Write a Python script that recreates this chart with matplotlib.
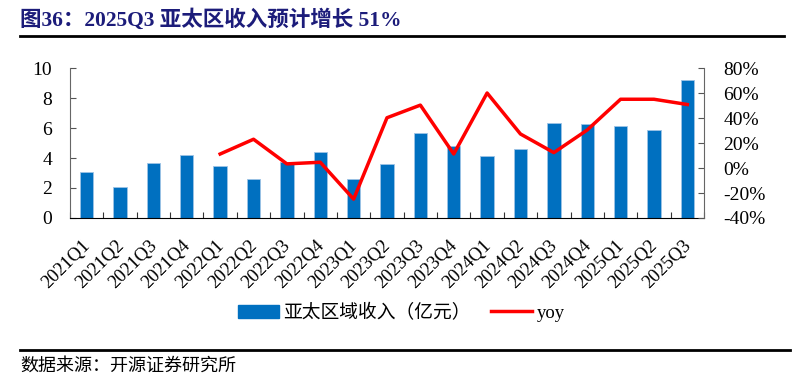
import matplotlib.pyplot as plt
from matplotlib.lines import Line2D
from matplotlib.transforms import offset_copy
import numpy as np

quarters = ['2021Q1', '2021Q2', '2021Q3', '2021Q4', '2022Q1', '2022Q2', '2022Q3', '2022Q4',
            '2023Q1', '2023Q2', '2023Q3', '2023Q4', '2024Q1', '2024Q2', '2024Q3', '2024Q4',
            '2025Q1', '2025Q2', '2025Q3']
revenue = [3.09, 2.09, 3.67, 4.2, 3.45, 2.58, 3.76, 4.38, 2.58, 3.62, 5.69, 4.82, 4.16, 4.58,
           6.33, 6.27, 6.13, 5.87, 9.2]
yoy = [None, None, None, None, 11.2, 23.0, 3.3, 4.6, -24.9, 40.2, 50.3, 11.2, 60.0, 27.2,
       12.3, 30.4, 55.0, 55.0, 50.8]
pct_ticks = [-40, -20, 0, 20, 40, 60, 80]

cjk = ['Noto Sans CJK SC', 'DejaVu Sans']
serif = ['Liberation Serif', 'Noto Sans CJK SC']

fig = plt.figure(figsize=(7.96, 3.78), dpi=100)
ax = fig.add_axes([70 / 796, 1 - 218 / 378, 634 / 796, 150 / 378])
x = np.arange(len(quarters))
ax.bar(x, revenue, width=0.4, color='#0070C0', edgecolor='#9DC3E6', linewidth=0.6, zorder=2)
ax.set_xlim(-0.5, len(quarters) - 0.5)
ax.set_ylim(0, 10)
ax.set_yticks([0, 2, 4, 6, 8, 10])
ax.set_xticks(np.arange(len(quarters) + 1) - 0.5)
ax.set_xticklabels([])
ax.tick_params(axis='x', direction='in', length=4, color='#333333')
# rotated category labels, anchored just below each bar
lbl_tr = offset_copy(ax.get_xaxis_transform(), fig=fig, x=-5, y=-19, units='dots')
for i, q in enumerate(quarters):
    ax.text(i, 0, q, transform=lbl_tr, rotation=45, ha='right', va='top',
            rotation_mode='anchor', fontsize=13.5, family=serif)
ax.tick_params(axis='y', direction='in', length=4, labelsize=14, color='#555555', pad=13)
for lbl in ax.get_yticklabels():
    lbl.set_family(serif)
for s in ['top', 'right']:
    ax.spines[s].set_visible(False)
ax.spines['left'].set_color('#666666')
ax.spines['bottom'].set_color('black')

ax2 = ax.twinx()
yx = [i for i, v in enumerate(yoy) if v is not None]
yv = [v for v in yoy if v is not None]
ax2.plot(yx, yv, color='#FF0000', linewidth=2.5, zorder=3)
ax2.set_ylim(-40, 80)
ax2.set_yticks(pct_ticks)
ax2.set_yticklabels([f'{t}%' for t in pct_ticks], family=serif)
ax2.tick_params(axis='y', direction='in', length=4, labelsize=14, color='#555555', pad=14)
for s in ['top', 'left', 'bottom']:
    ax2.spines[s].set_visible(False)
ax2.spines['right'].set_color('#666666')

handles = [plt.Rectangle((0, 0), 1, 1, color='#0070C0'),
           Line2D([0], [0], color='#FF0000', linewidth=2.5)]
fig.legend(handles, ['亚太区域收入（亿元）', 'yoy'], loc='center', bbox_to_anchor=(0.504, 1 - 313 / 378),
           ncol=2, frameon=False, prop={'family': serif, 'size': 13.5}, handlelength=2.2,
           columnspacing=1.05, handletextpad=0.25)

fig.text(20 / 796, 1 - 20 / 378, '图36：2025Q3 亚太区收入预计增长 51%', fontsize=15.5, fontweight='bold',
         color='#1C1C7A', family=['Liberation Serif', 'Noto Sans CJK SC'], va='center')
fig.add_artist(Line2D([20 / 796, 784 / 796], [1 - 36 / 378] * 2, color='black', linewidth=2))
fig.add_artist(Line2D([20 / 796, 790 / 796], [1 - 350 / 378] * 2, color='black', linewidth=2))
fig.text(20 / 796, 1 - 366 / 378, '数据来源：开源证券研究所', fontsize=13, family=cjk, va='center')

fig.savefig('out.png', dpi=100)
